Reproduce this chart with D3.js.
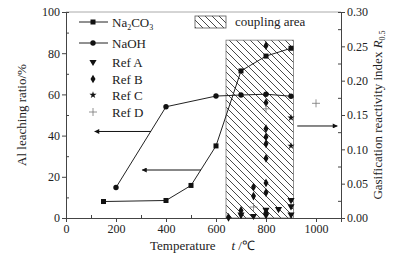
<!DOCTYPE html>
<html>
<head>
<meta charset="utf-8">
<script src="https://cdn.jsdelivr.net/npm/d3@7"></script>
<style>
  body { margin: 0; background: #fff; }
  svg text { font-family: "Liberation Serif", "Times New Roman", serif; fill: #222; }
</style>
</head>
<body>
<div id="chart"></div>
<script>
// series data
var na2co3 = [[150, 8], [400, 8.5], [500, 15.8], [600, 35], [700, 71.4], [800, 78.6], [900, 82.4]];
var naoh = [[200, 14.8], [400, 54], [600, 59.2], [700, 59.7], [800, 60.1], [900, 59.1]];

var refA = [[700, 0.005], [750, 0.003], [800, 0.012], [800, 0.004], [850, 0.013], [900, 0.026], [900, 0.017], [900, 0.005]];
var refB = [[650, 0.001], [700, 0.011], [700, 0.005], [750, 0.045], [750, 0.032], [800, 0.251], [800, 0.168], [800, 0.130],
	[800, 0.118], [800, 0.108], [800, 0.087], [800, 0.051], [800, 0.037], [800, 0.008]];
var refC = [[900, 0.146], [900, 0.105]];
var refD = [[800, 0.159], [750, 0.016], [1000, 0.167]];

var couplingX = [640, 910];
var couplingTop = 0.259;

var xTicks = [0, 200, 400, 600, 800, 1000];
var yTicks = [0, 20, 40, 60, 80, 100];
var y2Ticks = [0, 0.05, 0.10, 0.15, 0.20, 0.25, 0.30];

var width = 408,
	height = 263;
var margin = { left: 66, right: 67, top: 12, bottom: 45 };

var svg = d3.select("#chart").append("svg")
	.attr("width", width)
	.attr("height", height);

var x = d3.scaleLinear().domain([0, 1100]).range([margin.left, width - margin.right]);
var y = d3.scaleLinear().domain([0, 100]).range([height - margin.bottom, margin.top]);
var y2 = d3.scaleLinear().domain([0, 0.30]).range([height - margin.bottom, margin.top]);

var defs = svg.append("defs");
var pat = defs.append("pattern")
	.attr("id", "hatch")
	.attr("patternUnits", "userSpaceOnUse")
	.attr("width", 7)
	.attr("height", 7);
pat.append("path")
	.attr("d", "M0,0L7,7M-1,6L1,8M6,-1L8,1")
	.attr("stroke", "#333")
	.attr("stroke-width", 0.9);

// frame top
svg.append("line")
	.attr("x1", x(0)).attr("x2", x(1100))
	.attr("y1", y(100)).attr("y2", y(100))
	.attr("stroke", "#aaa");

// coupling area
svg.append("rect")
	.attr("x", x(couplingX[0]))
	.attr("y", y2(couplingTop))
	.attr("width", x(couplingX[1]) - x(couplingX[0]))
	.attr("height", y2(0) - y2(couplingTop))
	.attr("fill", "url(#hatch)")
	.attr("stroke", "#777")
	.attr("stroke-width", 0.8);

// axes: major ticks outward, minor inward
function minors(scale, step) {
	var d = scale.domain(), out = [];
	for (var v = d[0] + step / 2; v < d[1]; v += step) out.push(v);
	return out;
}

var xAxis = svg.append("g").attr("transform", "translate(0," + y(0) + ")");
xAxis.call(d3.axisBottom(x).tickValues(xTicks).tickSize(4).tickPadding(2).tickFormat(d3.format("d")));
xAxis.append("g").call(d3.axisTop(x).tickValues(minors(x, 200).filter(function(v) { return v < 1100; })).tickSize(3).tickFormat(""));

var yAxis = svg.append("g").attr("transform", "translate(" + x(0) + ",0)");
yAxis.call(d3.axisLeft(y).tickValues(yTicks).tickSize(4).tickPadding(2));
yAxis.append("g").call(d3.axisRight(y).tickValues(minors(y, 20)).tickSize(3).tickFormat(""));

var y2Axis = svg.append("g").attr("transform", "translate(" + x(1100) + ",0)");
y2Axis.call(d3.axisRight(y2).tickValues(y2Ticks).tickSize(4).tickPadding(2).tickFormat(d3.format(".2f")));
y2Axis.append("g").call(d3.axisLeft(y2).tickValues(minors(y2, 0.05)).tickSize(3).tickFormat(""));

svg.selectAll(".domain").attr("stroke", "#444");
svg.selectAll(".tick line").attr("stroke", "#444");
svg.selectAll(".tick text").style("font-size", "12px").attr("fill", "#333");

// lines
var line = d3.line()
	.x(function(d) { return x(d[0]); })
	.y(function(d) { return y(d[1]); });

svg.append("path").datum(na2co3).attr("d", line)
	.attr("fill", "none").attr("stroke", "#222").attr("stroke-width", 1);
svg.append("path").datum(naoh).attr("d", line)
	.attr("fill", "none").attr("stroke", "#222").attr("stroke-width", 1);

svg.selectAll(".sq").data(na2co3).enter().append("rect")
	.attr("x", function(d) { return x(d[0]) - 2.5; })
	.attr("y", function(d) { return y(d[1]) - 2.5; })
	.attr("width", 5).attr("height", 5)
	.attr("fill", "#111");
svg.selectAll(".ci").data(naoh).enter().append("circle")
	.attr("cx", function(d) { return x(d[0]); })
	.attr("cy", function(d) { return y(d[1]); })
	.attr("r", 2.7)
	.attr("fill", "#111");

// reference markers on right axis
var symA = d3.symbol().type(d3.symbolTriangle).size(22);
var symB = d3.symbol().type(d3.symbolDiamond).size(22);
var symC = d3.symbol().type(d3.symbolStar).size(16);

svg.selectAll(".ra").data(refA).enter().append("path")
	.attr("d", symA)
	.attr("transform", function(d) { return "translate(" + x(d[0]) + "," + y2(d[1]) + ") rotate(180)"; })
	.attr("fill", "#111");
svg.selectAll(".rb").data(refB).enter().append("path")
	.attr("d", symB)
	.attr("transform", function(d) { return "translate(" + x(d[0]) + "," + y2(d[1]) + ")"; })
	.attr("fill", "#111");
svg.selectAll(".rc").data(refC).enter().append("path")
	.attr("d", symC)
	.attr("transform", function(d) { return "translate(" + x(d[0]) + "," + y2(d[1]) + ")"; })
	.attr("fill", "#111");
svg.selectAll(".rd").data(refD).enter().append("path")
	.attr("d", "M-4,0H4M0,-4V4")
	.attr("transform", function(d) { return "translate(" + x(d[0]) + "," + y2(d[1]) + ")"; })
	.attr("stroke", "#777")
	.attr("stroke-width", 0.8);

// arrows
defs.append("marker")
	.attr("id", "head")
	.attr("viewBox", "0 0 10 10")
	.attr("refX", 9).attr("refY", 5)
	.attr("markerWidth", 7).attr("markerHeight", 5)
	.attr("markerUnits", "userSpaceOnUse")
	.attr("orient", "auto")
	.append("path").attr("d", "M0,0L10,5L0,10z").attr("fill", "#111");

function arrow(x1, x2, yy) {
	svg.append("line")
		.attr("x1", x(x1)).attr("x2", x(x2))
		.attr("y1", yy).attr("y2", yy)
		.attr("stroke", "#111").attr("stroke-width", 1)
		.attr("marker-end", "url(#head)");
}
arrow(340, 115, y(42));
arrow(540, 305, y(23.3));
arrow(925, 1085, y2(0.134));

// legend
var legend = svg.append("g");
var rows = [
	{ y: 22, label: ["Na", "2", "CO", "3"], mark: "sq" },
	{ y: 43, label: ["NaOH"], mark: "ci" },
	{ y: 62, label: ["Ref A"], mark: "A" },
	{ y: 79, label: ["Ref B"], mark: "B" },
	{ y: 95, label: ["Ref C"], mark: "C" },
	{ y: 112, label: ["Ref D"], mark: "D" }
];
rows.forEach(function(r) {
	var cx = 93;
	if (r.mark === "sq" || r.mark === "ci") {
		legend.append("line").attr("x1", 79).attr("x2", 108).attr("y1", r.y).attr("y2", r.y)
			.attr("stroke", "#222");
	}
	if (r.mark === "sq") legend.append("rect").attr("x", cx - 2.5).attr("y", r.y - 2.5).attr("width", 5).attr("height", 5).attr("fill", "#111");
	if (r.mark === "ci") legend.append("circle").attr("cx", cx).attr("cy", r.y).attr("r", 2.7).attr("fill", "#111");
	if (r.mark === "A") legend.append("path").attr("d", symA).attr("transform", "translate(" + cx + "," + r.y + ") rotate(180)").attr("fill", "#111");
	if (r.mark === "B") legend.append("path").attr("d", symB).attr("transform", "translate(" + cx + "," + r.y + ")").attr("fill", "#111");
	if (r.mark === "C") legend.append("path").attr("d", symC).attr("transform", "translate(" + cx + "," + r.y + ")").attr("fill", "#111");
	if (r.mark === "D") legend.append("path").attr("d", "M-4,0H4M0,-4V4").attr("transform", "translate(" + cx + "," + r.y + ")").attr("stroke", "#777").attr("stroke-width", 0.8);

	var t = legend.append("text").attr("x", 112).attr("y", r.y + 4.5).style("font-size", "13px");
	r.label.forEach(function(s, i) {
		var sp = t.append("tspan").text(s);
		if (i % 2 === 1) sp.style("font-size", "8px").attr("dy", 3);
		else if (i > 0) sp.attr("dy", -3);
	});
});

legend.append("rect")
	.attr("x", 195).attr("y", 16).attr("width", 31).attr("height", 12)
	.attr("fill", "url(#hatch)").attr("stroke", "#555").attr("stroke-width", 0.8);
legend.append("text").attr("x", 235).attr("y", 26).style("font-size", "13px").text("coupling area");

// axis titles
svg.append("text")
	.attr("transform", "translate(26," + y(50) + ") rotate(-90)")
	.attr("text-anchor", "middle")
	.style("font-size", "13px")
	.text("Al leaching ratio/%");

var rt = svg.append("text")
	.attr("transform", "translate(382," + y(50) + ") rotate(-90)")
	.attr("text-anchor", "middle")
	.style("font-size", "13px");
rt.append("tspan").text("Gasification reactivity index ");
rt.append("tspan").text("R").style("font-style", "italic");
rt.append("tspan").text("0.5").style("font-size", "8px").attr("dy", 3);

var xt = svg.append("text")
	.attr("x", 150).attr("y", 250)
	.style("font-size", "13px");
xt.append("tspan").text("Temperature");
xt.append("tspan").attr("dx", 16).text("t").style("font-style", "italic");
xt.append("tspan").attr("dx", 3).text("/℃");
</script>
</body>
</html>
